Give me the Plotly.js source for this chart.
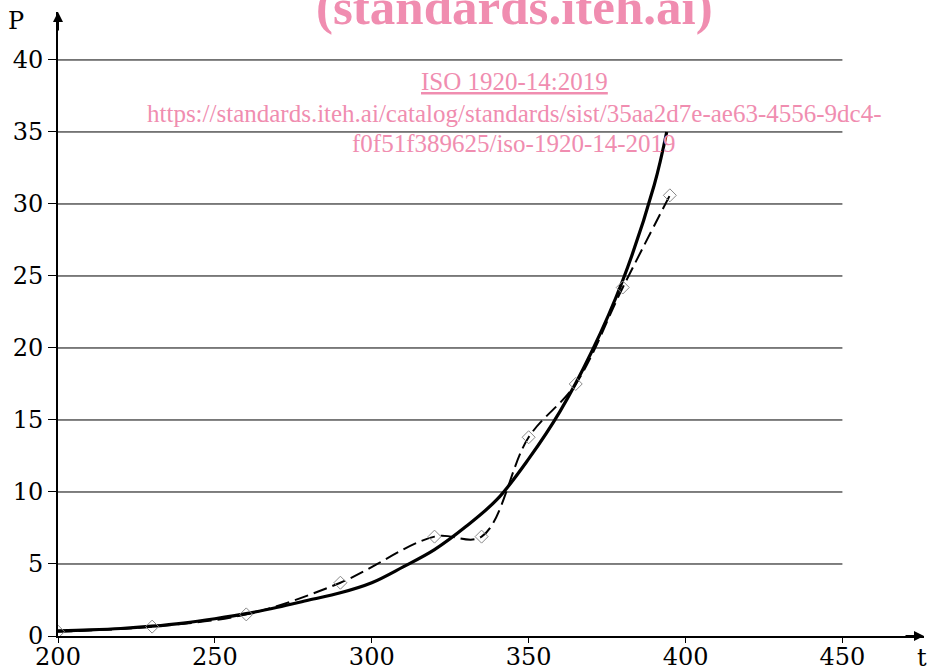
<!DOCTYPE html>
<html>
<head>
<meta charset="utf-8">
<script src="https://cdn.plot.ly/plotly-3.0.1.min.js"></script>
<style>html,body{margin:0;padding:0;background:#fff;}#chart{width:929px;height:669px;}</style>
</head>
<body>
<div id="chart"></div>
<script>
// Measured points (diamonds, dashed line)
const measT = [200, 230, 260, 290, 320, 335, 350, 365, 380, 395];
const measP = [0.3, 0.65, 1.5, 3.7, 6.9, 6.9, 13.8, 17.5, 24.2, 30.6];
// Fitted curve (solid line)
const fitT = [200, 210, 220, 230, 240, 250, 260, 270, 280, 290, 300, 310, 320, 330, 340, 350, 360, 370, 380, 390, 394];
const fitP = [0.35, 0.42, 0.52, 0.68, 0.9, 1.2, 1.55, 2.0, 2.5, 3.0, 3.7, 4.8, 6.0, 7.6, 9.5, 12.3, 15.6, 19.7, 24.7, 31.3, 35];
const xTicks = [200, 250, 300, 350, 400, 450];
const yTicks = [0, 5, 10, 15, 20, 25, 30, 35, 40];

const pink = '#f08db0';
const serif = 'DejaVu Serif';
const tnr = 'Liberation Serif';

const traces = [
  {x: fitT, y: fitP, mode: 'lines', line: {color: '#000', width: 3.2, shape: 'spline'}, hoverinfo: 'skip'},
  {x: measT, y: measP, mode: 'lines+markers', line: {color: '#000', width: 2, dash: '14px,6px', shape: 'spline', smoothing: 1},
   marker: {symbol: 'diamond-open', size: 10, color: '#888', line: {width: 1}}, hoverinfo: 'skip'}
];

const grid = yTicks.filter(v => v > 0).map(v => ({
  type: 'line', xref: 'x', yref: 'y', x0: xTicks[0], x1: xTicks[xTicks.length - 1], y0: v, y1: v,
  line: {color: '#000', width: 1}, layer: 'below'
}));

const layout = {
  width: 929, height: 669,
  margin: {l: 58, r: 5, t: 12, b: 33},
  paper_bgcolor: '#fff', plot_bgcolor: '#fff',
  showlegend: false,
  xaxis: {range: [200, 476], tickvals: xTicks, ticktext: xTicks.map(String), showgrid: false, zeroline: false,
    showline: true, linecolor: '#000', linewidth: 2, ticks: 'outside', ticklen: 5, tickcolor: '#000',
    ticklabelstandoff: -7,
    tickfont: {family: serif, size: 24, color: '#000'}},
  yaxis: {range: [0, 43.33], tickvals: yTicks, ticktext: yTicks.map(String), showgrid: false, zeroline: false,
    showline: true, linecolor: '#000', linewidth: 2, ticks: 'outside', ticklen: 8, tickcolor: '#000',
    tickfont: {family: serif, size: 24, color: '#000'}},
  shapes: grid,
  annotations: [
    {xref: 'paper', yref: 'paper', x: 1, y: 0, ax: -20, ay: 0, text: '', showarrow: true, arrowhead: 2, arrowsize: 1, arrowwidth: 2, arrowcolor: '#000'},
    {xref: 'paper', yref: 'paper', x: 0, y: 1, ax: 0, ay: 20, text: '', showarrow: true, arrowhead: 2, arrowsize: 1, arrowwidth: 2, arrowcolor: '#000'},
    {xref: 'paper', yref: 'paper', x: 0, y: 1, xshift: -42, yshift: -9, xanchor: 'center', yanchor: 'middle', text: 'P', showarrow: false, font: {family: serif, size: 24, color: '#000'}},
    {xref: 'paper', yref: 'paper', x: 1, y: 0, xshift: -2, yshift: -22, xanchor: 'center', yanchor: 'middle', text: 't', showarrow: false, font: {family: serif, size: 24, color: '#000'}},
    {xref: 'paper', yref: 'paper', x: 0.527, y: 1, yshift: 5, xanchor: 'center', yanchor: 'middle', text: '<b>(standards.iteh.ai)</b>', showarrow: false, font: {family: tnr, size: 51, color: pink}},
    {xref: 'paper', yref: 'paper', x: 0.527, y: 1, yshift: -69, xanchor: 'center', yanchor: 'middle', text: '<u>ISO 1920-14:2019</u>', showarrow: false, font: {family: tnr, size: 25, color: pink}},
    {xref: 'paper', yref: 'paper', x: 0.527, y: 1, yshift: -101, xanchor: 'center', yanchor: 'middle', text: 'https://standards.iteh.ai/catalog/standards/sist/35aa2d7e-ae63-4556-9dc4-', showarrow: false, font: {family: tnr, size: 25, color: pink}},
    {xref: 'paper', yref: 'paper', x: 0.527, y: 1, yshift: -131, xanchor: 'center', yanchor: 'middle', text: 'f0f51f389625/iso-1920-14-2019', showarrow: false, font: {family: tnr, size: 25, color: pink}}
  ]
};

Plotly.newPlot('chart', traces, layout, {displayModeBar: false, staticPlot: true});
</script>
</body>
</html>
